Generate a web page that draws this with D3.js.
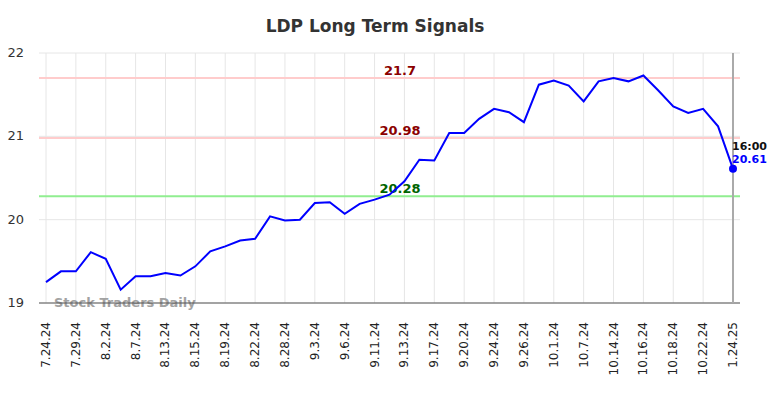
<!DOCTYPE html>
<html>
  <head>
    <title>LDP Long Term Signals</title>
    <script src="https://cdn.jsdelivr.net/npm/d3@7/dist/d3.min.js"></script>
    <style>
      body {
        margin: 0;
        background: white;
      }
      svg text {
        font-family: "DejaVu Sans", sans-serif;
      }
    </style>
  </head>
  <body>
    <script>
    // price series, two points per labelled tick
    var prices = [
      19.25, 19.38, 19.38, 19.61, 19.53, 19.16, 19.32, 19.32, 19.36, 19.33,
      19.44, 19.62, 19.68, 19.75, 19.77, 20.04, 19.99, 20.00, 20.20, 20.21,
      20.07, 20.19, 20.24, 20.30, 20.46, 20.72, 20.71, 21.04, 21.04, 21.21,
      21.33, 21.29, 21.17, 21.62, 21.67, 21.61, 21.42, 21.66, 21.70, 21.66,
      21.73, 21.55, 21.36, 21.28, 21.33, 21.12, 20.61
    ];
    var tickLabels = [
      "7.24.24", "7.29.24", "8.2.24", "8.7.24", "8.13.24", "8.15.24",
      "8.19.24", "8.22.24", "8.28.24", "9.3.24", "9.6.24", "9.11.24",
      "9.13.24", "9.17.24", "9.20.24", "9.24.24", "9.26.24", "10.1.24",
      "10.7.24", "10.14.24", "10.16.24", "10.18.24", "10.22.24", "1.24.25"
    ];
    var signalValues = [21.7, 20.98, 20.28];
    var signalKinds = ["resistance", "resistance", "support"];
    var yTicks = [19, 20, 21, 22];
    var lastTime = "16:00";

    var width = 784, height = 398;
    var plotLeft = 39, plotRight = 740, plotTop = 53, plotBottom = 303;

    var svg = d3.select("body").append("svg")
      .attr("width", width)
      .attr("height", height);

    var x = d3.scalePoint()
      .domain(d3.range(prices.length))
      .range([46, 733]);

    var y = d3.scaleLinear()
      .domain([19, 22])
      .range([plotBottom, plotTop]);

    // grid
    svg.append("g").selectAll("line")
      .data(yTicks)
      .enter().append("line")
      .attr("x1", plotLeft).attr("x2", plotRight)
      .attr("y1", function (d) { return y(d); })
      .attr("y2", function (d) { return y(d); })
      .style("stroke", "#e6e6e6")
      .style("stroke-width", 1);

    svg.append("g").selectAll("line")
      .data(tickLabels)
      .enter().append("line")
      .attr("x1", function (d, i) { return x(i * 2); })
      .attr("x2", function (d, i) { return x(i * 2); })
      .attr("y1", plotTop).attr("y2", plotBottom)
      .style("stroke", "#e6e6e6")
      .style("stroke-width", 1);

    // y labels
    svg.append("g").selectAll("text")
      .data(yTicks)
      .enter().append("text")
      .attr("x", 24)
      .attr("y", function (d) { return y(d) + 4; })
      .attr("text-anchor", "end")
      .style("font-size", "13px")
      .style("fill", "#333")
      .text(function (d) { return d; });

    // x labels
    svg.append("g").selectAll("text")
      .data(tickLabels)
      .enter().append("text")
      .attr("transform", function (d, i) {
        return "translate(" + (x(i * 2) + 4) + "," + 322 + ") rotate(-90)";
      })
      .attr("text-anchor", "end")
      .style("font-size", "12px")
      .style("fill", "#222")
      .text(function (d) { return d; });

    // signal lines
    svg.append("g").selectAll("line")
      .data(signalValues)
      .enter().append("line")
      .attr("x1", plotLeft).attr("x2", plotRight)
      .attr("y1", function (d) { return y(d); })
      .attr("y2", function (d) { return y(d); })
      .style("stroke", function (d, i) { return signalKinds[i] == "support" ? "#90ee90" : "#ffcccc"; })
      .style("stroke-width", 2);

    svg.append("g").selectAll("text")
      .data(signalValues)
      .enter().append("text")
      .attr("x", 400)
      .attr("y", function (d) { return y(d) - 3; })
      .attr("text-anchor", "middle")
      .style("font-size", "13px")
      .style("font-weight", "bold")
      .style("fill", function (d, i) { return signalKinds[i] == "support" ? "#006400" : "#8b0000"; })
      .text(function (d) { return d; });

    // watermark
    svg.append("text")
      .attr("x", 54)
      .attr("y", 307)
      .style("font-size", "13px")
      .style("font-weight", "bold")
      .style("fill", "#999")
      .style("opacity", 0.9)
      .text("Stock Traders Daily");

    // bottom axis
    svg.append("line")
      .attr("x1", plotLeft).attr("x2", plotRight)
      .attr("y1", plotBottom).attr("y2", plotBottom)
      .style("stroke", "#555")
      .style("stroke-width", 1.2);

    // marker for last bar
    var lastX = x(prices.length - 1);
    svg.append("line")
      .attr("x1", lastX).attr("x2", lastX)
      .attr("y1", plotTop).attr("y2", plotBottom)
      .style("stroke", "#aaa")
      .style("stroke-width", 2);

    // price line
    var line = d3.line()
      .x(function (d, i) { return x(i); })
      .y(function (d) { return y(d); });

    svg.append("path")
      .datum(prices)
      .attr("d", line)
      .style("fill", "none")
      .style("stroke", "blue")
      .style("stroke-width", 2);

    var lastVal = prices[prices.length - 1];
    svg.append("circle")
      .attr("cx", lastX)
      .attr("cy", y(lastVal))
      .attr("r", 4)
      .style("fill", "blue");

    svg.append("text")
      .attr("x", lastX - 1)
      .attr("y", 150)
      .style("font-size", "11px")
      .style("font-weight", "bold")
      .style("fill", "#111")
      .text(lastTime);

    svg.append("text")
      .attr("x", lastX - 1)
      .attr("y", 163)
      .style("font-size", "11px")
      .style("font-weight", "bold")
      .style("fill", "blue")
      .text(lastVal.toFixed(2));

    // title
    svg.append("text")
      .attr("x", 375)
      .attr("y", 32)
      .attr("text-anchor", "middle")
      .style("font-size", "17px")
      .style("font-weight", "bold")
      .style("fill", "#333")
      .text("LDP Long Term Signals");
    </script>
  </body>
</html>
